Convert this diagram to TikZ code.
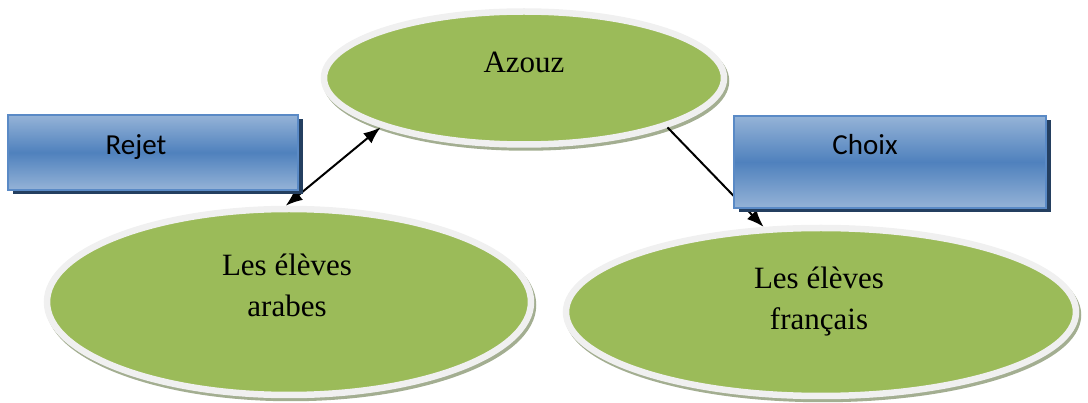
\documentclass[tikz,border=0pt]{standalone}
\usepackage{fontspec}
\setmainfont{Liberation Serif}
\newfontfamily\boxfont{Carlito}
\usetikzlibrary{shapes.geometric,shadows,arrows.meta}
\definecolor{leafgreen}{HTML}{9BBB59}
\definecolor{ringgray}{HTML}{F0F0F0}
\definecolor{shadowgreen}{HTML}{A3AE91}
\definecolor{boxlight}{HTML}{95B3D7}
\definecolor{boxmid}{HTML}{4F81BD}
\definecolor{boxedge}{HTML}{5A8AC6}
\definecolor{boxshadow}{HTML}{243F60}
\begin{document}
\begin{tikzpicture}[x=1pt,y=-1pt,
  bubble/.style={ellipse, fill=leafgreen, draw=ringgray, line width=6.5pt,
    inner sep=0pt,
    drop shadow={shadow xshift=2pt, shadow yshift=-3pt, fill=shadowgreen,
      draw=shadowgreen, line width=6.5pt, opacity=1}},
  tagbox/.style={rectangle, draw=boxedge, line width=1.2pt, inner sep=0pt,
    top color=boxlight, bottom color=boxlight, middle color=boxmid,
    drop shadow={shadow xshift=4.5pt, shadow yshift=-4.5pt, fill=boxshadow, opacity=1}},
  serif/.style={anchor=base, inner sep=0pt, font=\fontsize{31}{38}\selectfont},
  sans/.style={anchor=base, inner sep=0pt, font=\boxfont\fontsize{29}{34}\selectfont},
  conn/.style={line width=2pt, black}
]
\useasboundingbox (0,0) rectangle (1088,403);

% the three ellipses
\node[bubble, minimum width=400pt, minimum height=133pt] (azouz) at (524,78) {};
\node[bubble, minimum width=484pt, minimum height=186pt] (arabes) at (289,302) {};
\node[bubble, minimum width=510pt, minimum height=168pt] (francais) at (821,312) {};

\node[serif] (azouzlbl) at (524,73) {Azouz};
\node[serif] (arabes1) at (287,276) {Les élèves};
\node[serif] (arabes2) at (287,317) {arabes};
\node[serif] (francais1) at (819,289) {Les élèves};
\node[serif] (francais2) at (819,330) {français};

% connectors
\draw[conn, {Latex[length=17pt,width=13pt]}-{Latex[length=17pt,width=13pt]}]
  (arabes.92) -- (azouz.199);
\draw[conn, -{Latex[length=17pt,width=13pt]}] (azouz.341) -- (francais.124);

% labelled boxes
\node[tagbox, minimum width=290pt, minimum height=75pt] (rejet) at (153,152.5) {};
\node[tagbox, minimum width=312pt, minimum height=92pt] (choix) at (890,162) {};
\node[sans] (rejetlbl) at (136,155) {Rejet};
\node[sans] (choixlbl) at (865,155) {Choix};
\end{tikzpicture}
\end{document}
